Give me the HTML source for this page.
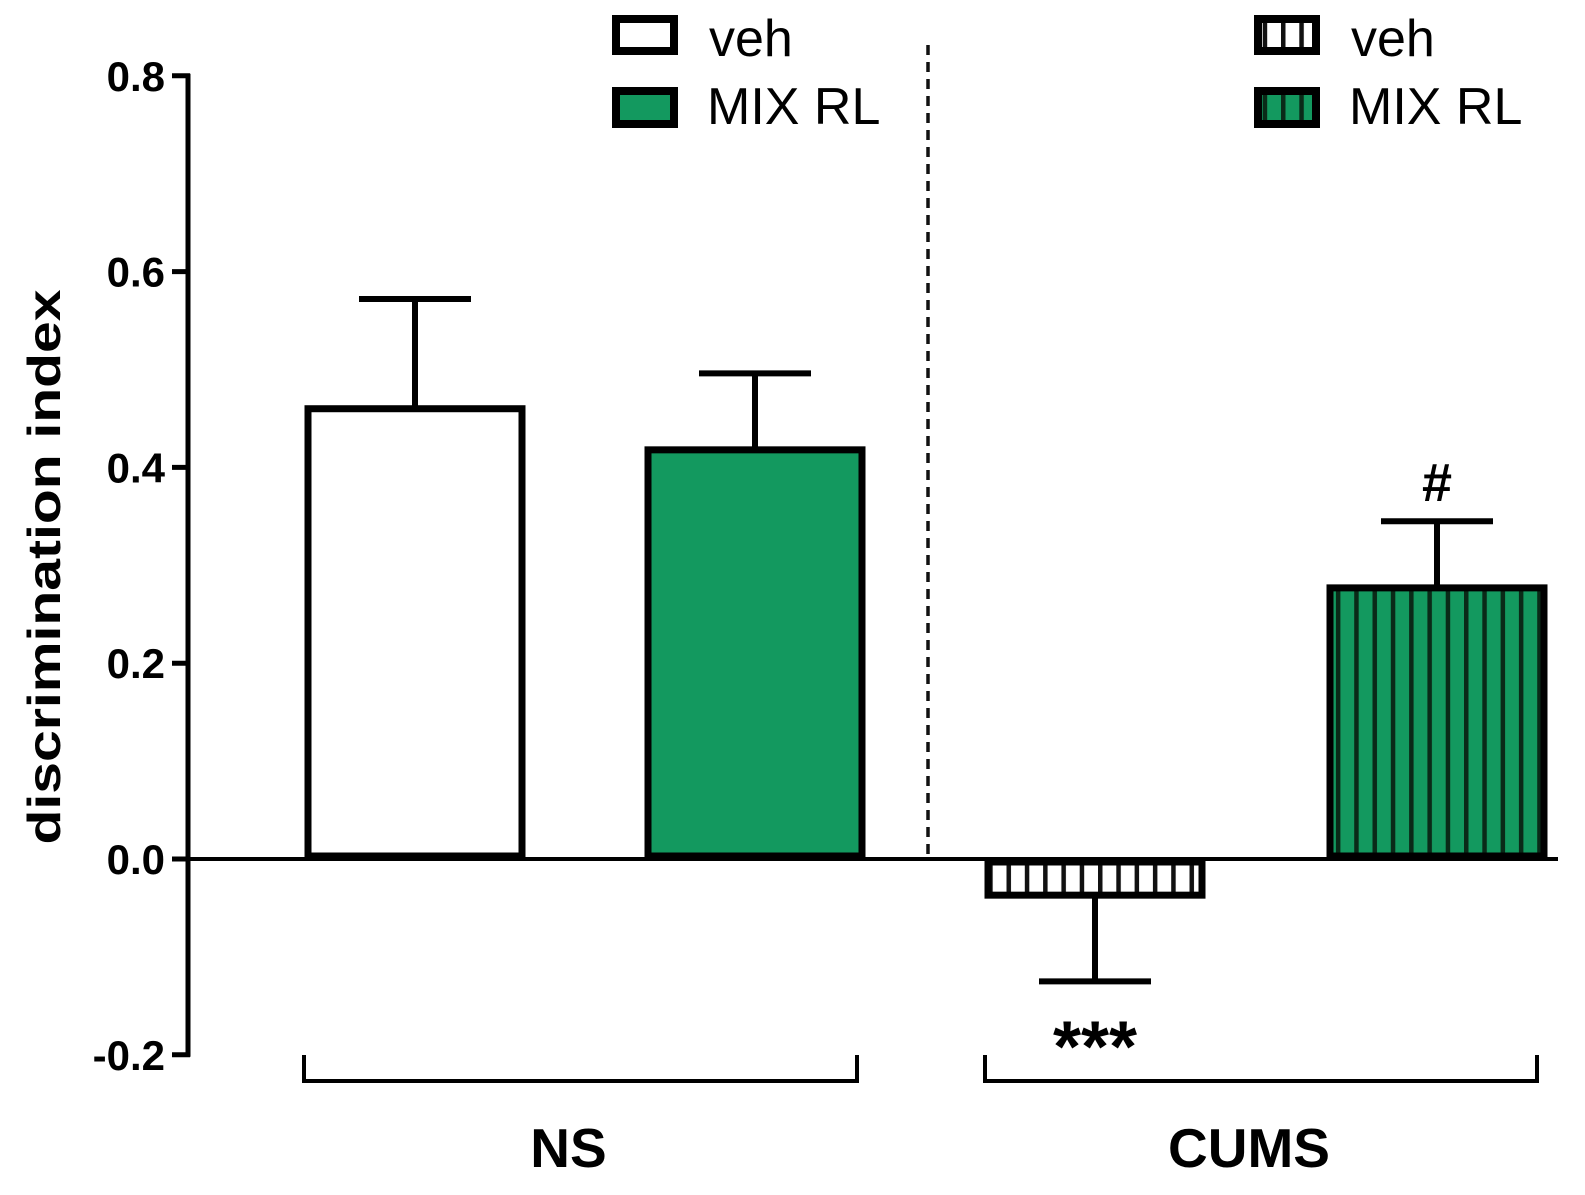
<!DOCTYPE html>
<html><head><meta charset="utf-8"><style>
html,body{margin:0;padding:0;background:#fff}
svg{display:block;font-family:"Liberation Sans",Arial,sans-serif}
</style></head><body>
<svg width="1585" height="1195" viewBox="0 0 1585 1195">
<defs>
<pattern id="hw" width="18.3" height="40" patternUnits="userSpaceOnUse" x="0"><rect width="18.3" height="40" fill="#fff"/><rect x="0" width="4.5" height="40" fill="#111"/></pattern>
<pattern id="hg" width="18.3" height="40" patternUnits="userSpaceOnUse" x="0"><rect width="18.3" height="40" fill="#13995f"/><rect x="0" width="4.5" height="40" fill="#0a2a18"/></pattern>
</defs>
<g id="plot"></g>
<line x1="928" y1="45" x2="928" y2="859" stroke="#111" stroke-width="3.5" stroke-dasharray="10,7"/>
<text transform="translate(60,567) rotate(-90)" text-anchor="middle" font-size="46" font-weight="bold" textLength="555" lengthAdjust="spacingAndGlyphs">discrimination index</text>
<g>
<rect x="616" y="19" width="58" height="32" fill="#fff" stroke="#000" stroke-width="8"/>
<text x="709" y="56" font-size="52">veh</text>
<rect x="616" y="91" width="58" height="33" fill="#13995f" stroke="#000" stroke-width="8"/>
<text x="707" y="124" font-size="52">MIX RL</text>
</g>
<g>
<rect x="1258" y="19" width="58" height="32" fill="url(#hw)" stroke="#000" stroke-width="8"/>
<text x="1351" y="56" font-size="52">veh</text>
<rect x="1258" y="91" width="58" height="33" fill="url(#hg)" stroke="#000" stroke-width="8"/>
<text x="1349" y="124" font-size="52">MIX RL</text>
</g>
</svg>
<script>
const ticks=[0.8,0.6,0.4,0.2,0.0,-0.2];
const tickLabels=["0.8","0.6","0.4","0.2","0.0","-0.2"];
const barNames=["ns-veh","ns-mix","cums-veh","cums-mix"];
const values=[0.463,0.421,-0.04,0.28];
const errors=[0.109,0.075,0.085,0.065];
const annotations=["","","***","#"];
const groups=["NS","CUMS"];
const NS="http://www.w3.org/2000/svg";
const g=document.getElementById('plot');
const y=v=>859-(v)*979;
const barX=[305,645,985,1327], barW=220;
const fills=["#fff","#13995f","url(#hw)","url(#hg)"];
function mk(t,a){const e=document.createElementNS(NS,t);for(const k in a)e.setAttribute(k,a[k]);g.appendChild(e);return e;}
let ax=mk('line',{x1:188,y1:y(0.8)-2,x2:188,y2:y(-0.2)+2,stroke:'#000','stroke-width':5});


ticks.forEach((t,i)=>{
 let l=mk('line',{x1:172,y1:y(t),x2:190,y2:y(t),stroke:'#000','stroke-width':5});
 
 
 let tx=mk('text',{x:165,y:y(t)+15,'text-anchor':'end','font-size':42,'font-weight':'bold'});
 tx.textContent=tickLabels[i];
 
 
});
values.forEach((v,i)=>{
 const x0=barX[i];
 const top=Math.min(y(v),y(0)), h=Math.abs(y(v)-y(0));
 const ey=v>=0?y(v+errors[i]):y(v-errors[i]);
 let el=mk('line',{x1:x0+barW/2,y1:y(v),x2:x0+barW/2,y2:ey,stroke:'#000','stroke-width':6});
 
 
 let cap=mk('line',{x1:x0+barW/2-56,y1:ey,x2:x0+barW/2+56,y2:ey,stroke:'#000','stroke-width':6});
 
 
 let r=mk('rect',{x:x0+3,y:top+3,width:barW-6,height:Math.max(h-6,1),fill:fills[i],stroke:'#000','stroke-width':7});
 
 
 if(annotations[i]){
  let a=mk('text',{x:x0+barW/2,y:v>=0?ey-20:ey+90,'text-anchor':'middle','font-size':v>=0?54:72,'font-weight':'bold'});
  a.textContent=annotations[i];
  
  
 }
});
let z=mk('line',{x1:186,y1:y(0),x2:1558,y2:y(0),stroke:'#000','stroke-width':4});


const br=[[304,857],[985,1537]];
groups.forEach((n,i)=>{
 let p=mk('path',{d:`M${br[i][0]} 1055 V1081 H${br[i][1]} V1055`,fill:'none',stroke:'#000','stroke-width':4});
 
 
 let t=mk('text',{x:(br[i][0]+br[i][1])/2-12,y:1167,'text-anchor':'middle','font-size':55,'font-weight':'bold'});
 t.textContent=n;
 
 
});
</script>
</body></html>
